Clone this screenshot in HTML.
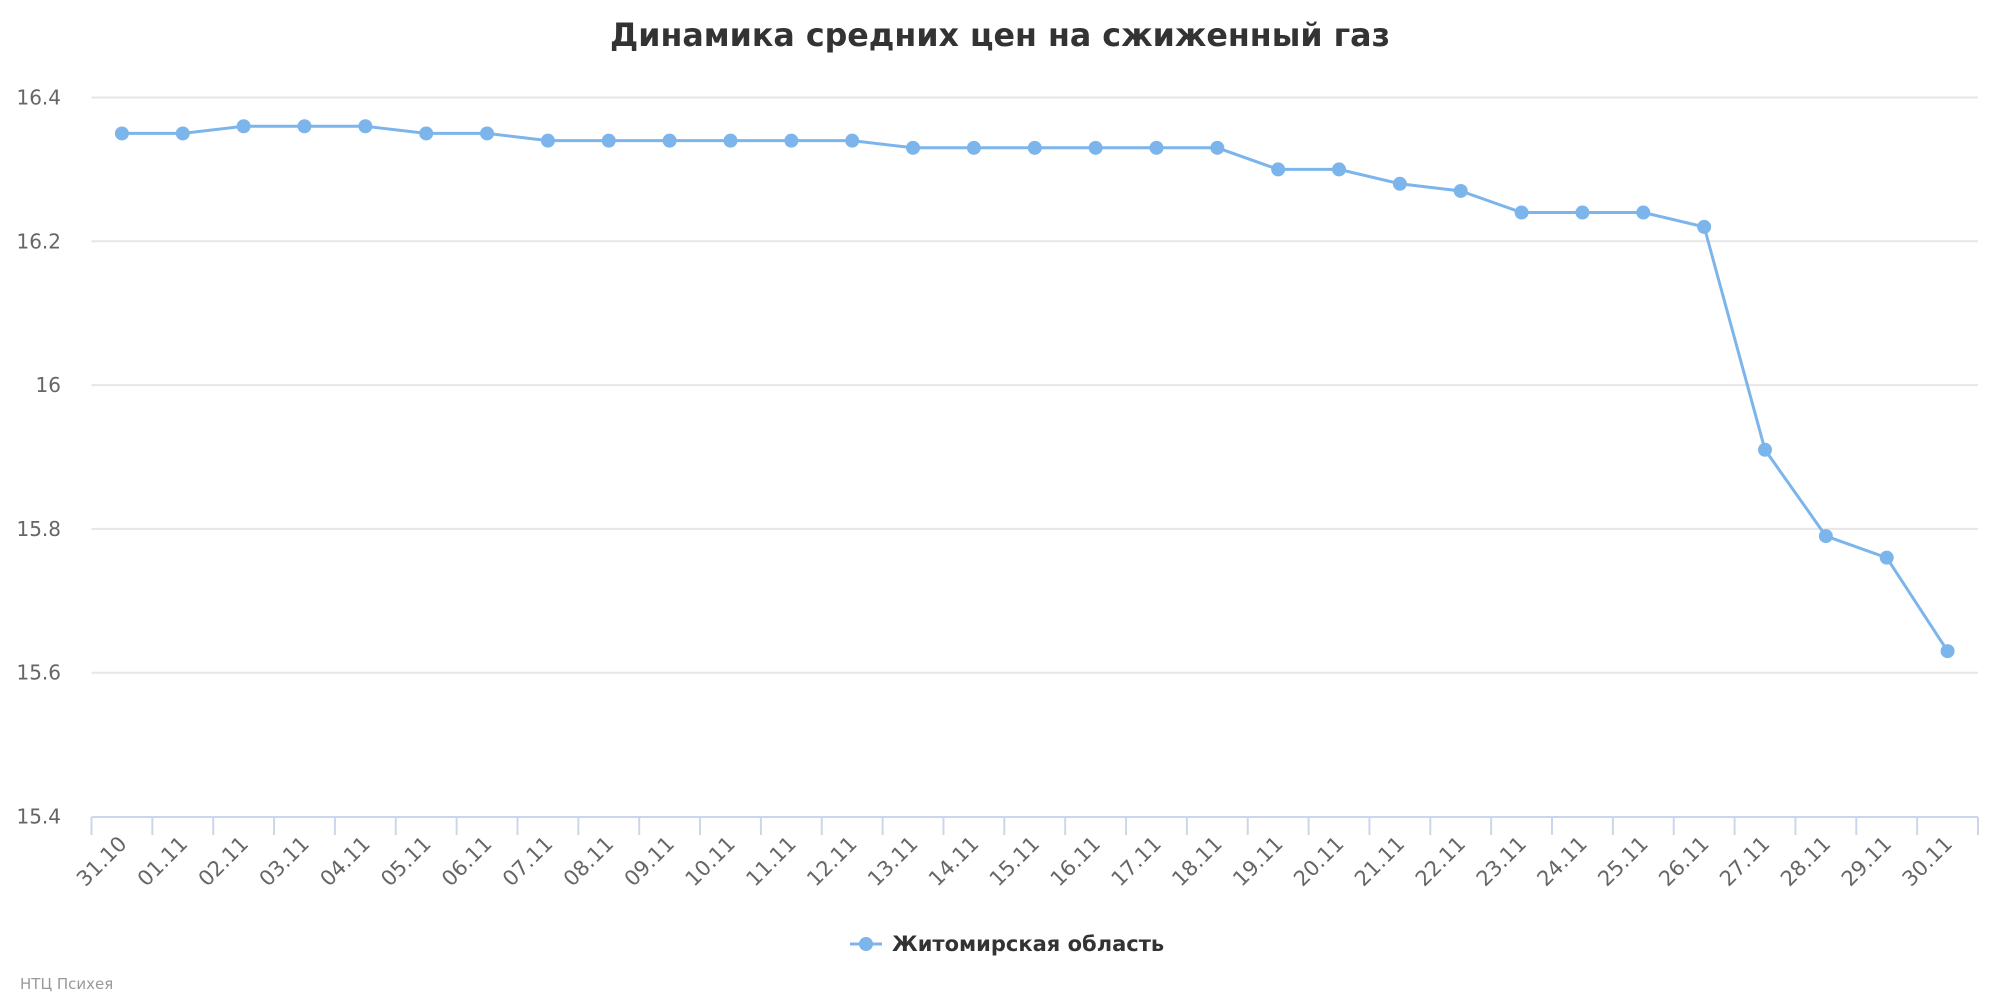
<!DOCTYPE html>
<html><head><meta charset="utf-8"><style>
html,body{margin:0;padding:0;background:#fff;}
svg{display:block;font-family:"DejaVu Sans","Liberation Sans",sans-serif;}
</style></head><body>
<svg id="c" width="2000" height="1000" xmlns="http://www.w3.org/2000/svg">
<text x="1000" y="46" text-anchor="middle" font-size="32" font-weight="bold" fill="#333" textLength="780" lengthAdjust="spacingAndGlyphs">Динамика средних цен на сжиженный газ</text>
</svg>
<script>
var s=document.getElementById('c'),ns='http://www.w3.org/2000/svg';
function el(t,a,txt){var e=document.createElementNS(ns,t);for(var k in a)e.setAttribute(k,a[k]);if(txt)e.textContent=txt;s.appendChild(e);return e;}
var data=[16.35,16.35,16.36,16.36,16.36,16.35,16.35,16.34,16.34,16.34,16.34,16.34,16.34,16.33,16.33,16.33,16.33,16.33,16.33,16.30,16.30,16.28,16.27,16.24,16.24,16.24,16.22,15.91,15.79,15.76,15.63];
var labels=['31.10'];for(var i=1;i<=30;i++)labels.push((i<10?'0':'')+i+'.11');
var x0=91.5,x1=1978,bw=(x1-x0)/31;
function Y(v){return 816.5-(v-15.4)/0.2*143.8;}
var yl=['15.4','15.6','15.8','16','16.2','16.4'];
for(var i=0;i<6;i++){var y=Y(15.4+0.2*i);
 if(i>0)el('line',{x1:x0,x2:x1,y1:y,y2:y,stroke:'#e6e6e6','stroke-width':2});
 el('text',{x:61,y:y+7,'text-anchor':'end','font-size':20,fill:'#666'},yl[i]);}
el('line',{x1:x0,x2:x1,y1:817,y2:817,stroke:'#ccd6eb','stroke-width':2});
for(var i=0;i<=31;i++){var x=x0+i*bw;el('line',{x1:x,x2:x,y1:817,y2:835,stroke:'#ccd6eb','stroke-width':2});}
for(var i=0;i<31;i++){var cx=x0+(i+0.5)*bw;
 el('text',{x:cx+6,y:845,'text-anchor':'end','font-size':21,fill:'#666',transform:'rotate(-45 '+(cx+6)+' 845)'},labels[i]);}
var p='';for(var i=0;i<31;i++){p+=(i?'L':'M')+(x0+(i+0.5)*bw).toFixed(1)+' '+Y(data[i]).toFixed(1);}
el('path',{d:p,fill:'none',stroke:'#7cb5ec','stroke-width':3});
for(var i=0;i<31;i++)el('circle',{cx:x0+(i+0.5)*bw,cy:Y(data[i]),r:7,fill:'#7cb5ec'});
el('line',{x1:850,x2:882,y1:944,y2:944,stroke:'#7cb5ec','stroke-width':3});
el('circle',{cx:866,cy:944,r:7,fill:'#7cb5ec'});
el('text',{x:892,y:951,'font-size':21,'font-weight':'bold',fill:'#333'},'Житомирская область');
el('text',{x:20,y:989,'font-size':15,fill:'#999'},'НТЦ Психея');
</script>
</body></html>
